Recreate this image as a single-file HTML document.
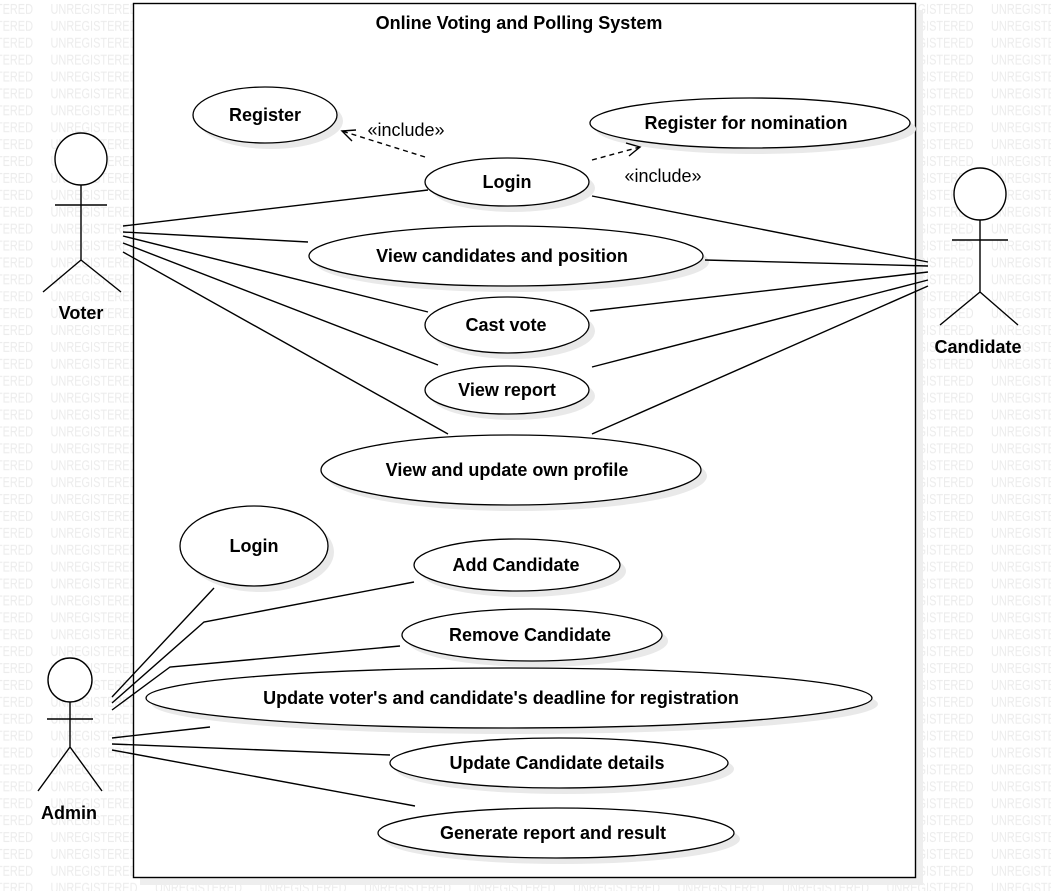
<!DOCTYPE html>
<html><head><meta charset="utf-8"><style>
html,body{margin:0;padding:0;background:#fff;}
svg{display:block;font-family:"Liberation Sans",sans-serif;}
.wm{fill:#ececec;font-size:15px;}
.uc{fill:#fff;stroke:#000;stroke-width:1.3;}
.sh{fill:#e9e9e9;}
.t{font-weight:bold;font-size:18px;text-anchor:middle;dominant-baseline:central;}
.l{stroke:#000;stroke-width:1.4;fill:none;}
</style></head><body>
<svg width="1051" height="891" viewBox="0 0 1051 891">
<defs>
<pattern id="wm" x="-54" y="0" width="104.5" height="16.9" patternUnits="userSpaceOnUse">
<text class="wm" x="0" y="14" textLength="87" lengthAdjust="spacingAndGlyphs">UNREGISTERED</text>
</pattern>
</defs>
<rect width="1051" height="891" fill="url(#wm)"/>
<rect x="140" y="10" width="783" height="875" fill="#eee"/>
<rect x="133.5" y="3.5" width="782" height="874" fill="#fff" stroke="#000" stroke-width="1.4"/>
<text x="519" y="23" class="t">Online Voting and Polling System</text>

<g>
<ellipse class="sh" cx="271" cy="121" rx="72" ry="28"/><ellipse class="uc" cx="265" cy="115" rx="72" ry="28"/><text class="t" x="265" y="115">Register</text>
<ellipse class="sh" cx="756" cy="129" rx="160" ry="25"/><ellipse class="uc" cx="750" cy="123" rx="160" ry="25"/><text class="t" x="746" y="123">Register for nomination</text>
<ellipse class="sh" cx="513" cy="188" rx="82" ry="24"/><ellipse class="uc" cx="507" cy="182" rx="82" ry="24"/><text class="t" x="507" y="182">Login</text>
<ellipse class="sh" cx="512" cy="262" rx="197" ry="30"/><ellipse class="uc" cx="506" cy="256" rx="197" ry="30"/><text class="t" x="502" y="256">View candidates and position</text>
<ellipse class="sh" cx="513" cy="331" rx="82" ry="28"/><ellipse class="uc" cx="507" cy="325" rx="82" ry="28"/><text class="t" x="506" y="325">Cast vote</text>
<ellipse class="sh" cx="513" cy="396" rx="82" ry="24"/><ellipse class="uc" cx="507" cy="390" rx="82" ry="24"/><text class="t" x="507" y="390">View report</text>
<ellipse class="sh" cx="517" cy="476" rx="190" ry="35"/><ellipse class="uc" cx="511" cy="470" rx="190" ry="35"/><text class="t" x="507" y="470">View and update own profile</text>
<ellipse class="sh" cx="260" cy="552" rx="74" ry="40"/><ellipse class="uc" cx="254" cy="546" rx="74" ry="40"/><text class="t" x="254" y="546">Login</text>
<ellipse class="sh" cx="523" cy="571" rx="103" ry="26"/><ellipse class="uc" cx="517" cy="565" rx="103" ry="26"/><text class="t" x="516" y="565">Add Candidate</text>
<ellipse class="sh" cx="538" cy="641" rx="130" ry="26"/><ellipse class="uc" cx="532" cy="635" rx="130" ry="26"/><text class="t" x="530" y="635">Remove Candidate</text>
<ellipse class="sh" cx="515" cy="704" rx="363" ry="30"/><ellipse class="uc" cx="509" cy="698" rx="363" ry="30"/><text class="t" x="501" y="698">Update voter's and candidate's deadline for registration</text>
<ellipse class="sh" cx="565" cy="769" rx="169" ry="25"/><ellipse class="uc" cx="559" cy="763" rx="169" ry="25"/><text class="t" x="557" y="763">Update Candidate details</text>
<ellipse class="sh" cx="562" cy="839" rx="178" ry="25"/><ellipse class="uc" cx="556" cy="833" rx="178" ry="25"/><text class="t" x="553" y="833">Generate report and result</text>
</g>

<path class="l" d="M425 157 L342 131" stroke-dasharray="5,4"/>
<path class="l" d="M356 130 L342 131 L352 141"/>
<text x="406" y="136" style="font-size:18px" text-anchor="middle">«include»</text>
<path class="l" d="M592 160 L640 147" stroke-dasharray="5,4"/>
<path class="l" d="M626 143 L640 147 L629 156"/>
<text x="663" y="182" style="font-size:18px" text-anchor="middle">«include»</text>

<path class="l" d="M123 226 L428 190 M123 232 L308 242 M123 236 L428 312 M123 243 L438 365 M123 252 L448 434"/>
<path class="l" d="M592 196 L928 262 M705 260 L928 266 M590 311 L928 272 M592 367 L928 280 M592 434 L928 286"/>
<path class="l" d="M112 697 L214 588 M112 703 L204 622 L414 582 M112 710 L170 667 L400 646 M112 738 L210 727 M112 744 L390 755 M112 750 L415 806"/>

<g class="l">
<circle cx="81" cy="159" r="26" fill="#fff"/>
<path d="M81 185 V260 M55 205 H107 M81 260 L43 292 M81 260 L121 292"/>
<circle cx="980" cy="194" r="26" fill="#fff"/>
<path d="M980 220 V292 M952 240 H1008 M980 292 L940 325 M980 292 L1018 325"/>
<circle cx="70" cy="680" r="22" fill="#fff"/>
<path d="M70 702 V747 M47 719 H93 M70 747 L38 791 M70 747 L102 791"/>
</g>
<text class="t" x="81" y="313">Voter</text>
<text class="t" x="978" y="347">Candidate</text>
<text class="t" x="69" y="813">Admin</text>
</svg>
</body></html>
